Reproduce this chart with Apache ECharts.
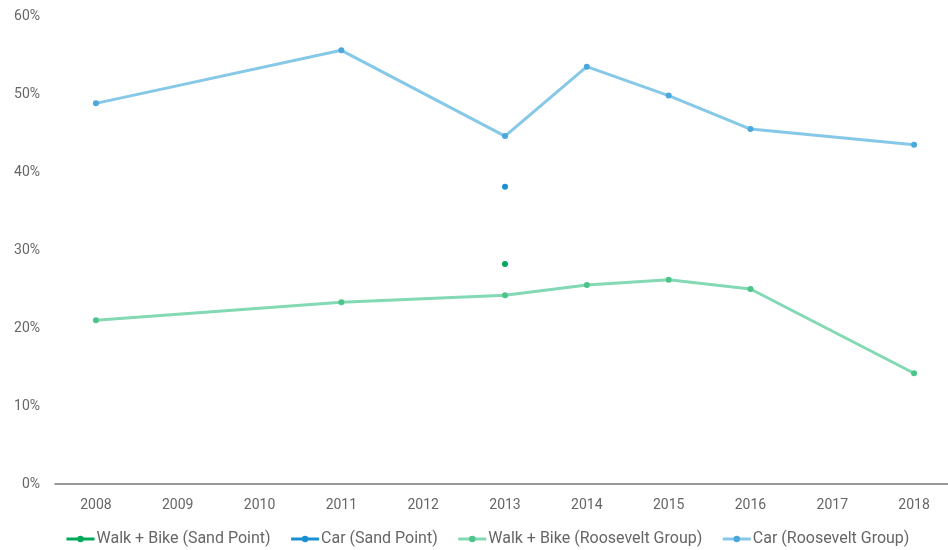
<!DOCTYPE html>
<html><head><meta charset="utf-8">
<script src="https://cdn.jsdelivr.net/npm/echarts@6/dist/echarts.min.js"></script>
<style>html,body{margin:0;padding:0;background:#fff}#c{width:948px;height:550px}</style>
</head><body><div id="c"></div>
<script>
var years = ['2008','2009','2010','2011','2012','2013','2014','2015','2016','2017','2018'];
var walkSandPoint = [null,null,null,null,null,28.2,null,null,null,null,null];
var carSandPoint = [null,null,null,null,null,38.1,null,null,null,null,null];
var walkRoosevelt = [21.0,null,null,23.3,null,24.2,25.5,26.2,25.0,null,14.2];
var carRoosevelt = [48.8,null,null,55.6,null,44.6,53.5,49.8,45.5,null,43.5];
var seriesNames = ['Walk + Bike (Sand Point)','Car (Sand Point)','Walk + Bike (Roosevelt Group)','Car (Roosevelt Group)'];

var font = 'Roboto';
function mk(name, data, lineColor, dotColor){
  return {name:name, type:'line', data:data, connectNulls:true, symbol:'circle', symbolSize:6,
    lineStyle:{color:lineColor, width:3}, itemStyle:{color:dotColor}, color:lineColor, z:2};
}
var chart = echarts.init(document.getElementById('c'));
chart.setOption({
  animation:false,
  textStyle:{fontFamily:font},
  grid:{left:55, right:-7, top:16, bottom:66, outerBoundsMode:'none', containLabel:false},
  legend:{bottom:-2, left:60, itemWidth:28, itemHeight:8, itemGap:19,
    lineStyle:{width:3},
    textStyle:{fontFamily:font, fontSize:16, color:'#666', padding:[0,0,0,-3]},
    data:seriesNames},
  xAxis:{type:'category', data:years, boundaryGap:true,
    axisLine:{lineStyle:{color:'#777', width:1.5}}, axisTick:{show:false},
    axisLabel:{color:'#666', fontSize:14, margin:14, fontFamily:font}},
  yAxis:{type:'value', min:0, max:60, interval:10, splitLine:{show:false},
    axisLine:{show:false}, axisTick:{show:false},
    axisLabel:{formatter:'{value}%', color:'#666', fontSize:14, margin:15, fontFamily:font}},
  series:[
    mk(seriesNames[0], walkSandPoint, '#00a85a', '#00a85a'),
    mk(seriesNames[1], carSandPoint, '#1b8fd4', '#1b8fd4'),
    mk(seriesNames[2], walkRoosevelt, '#82d9b3', '#4cc48a'),
    mk(seriesNames[3], carRoosevelt, '#86c8e8', '#4aa8dc')
  ]
});
</script></body></html>
